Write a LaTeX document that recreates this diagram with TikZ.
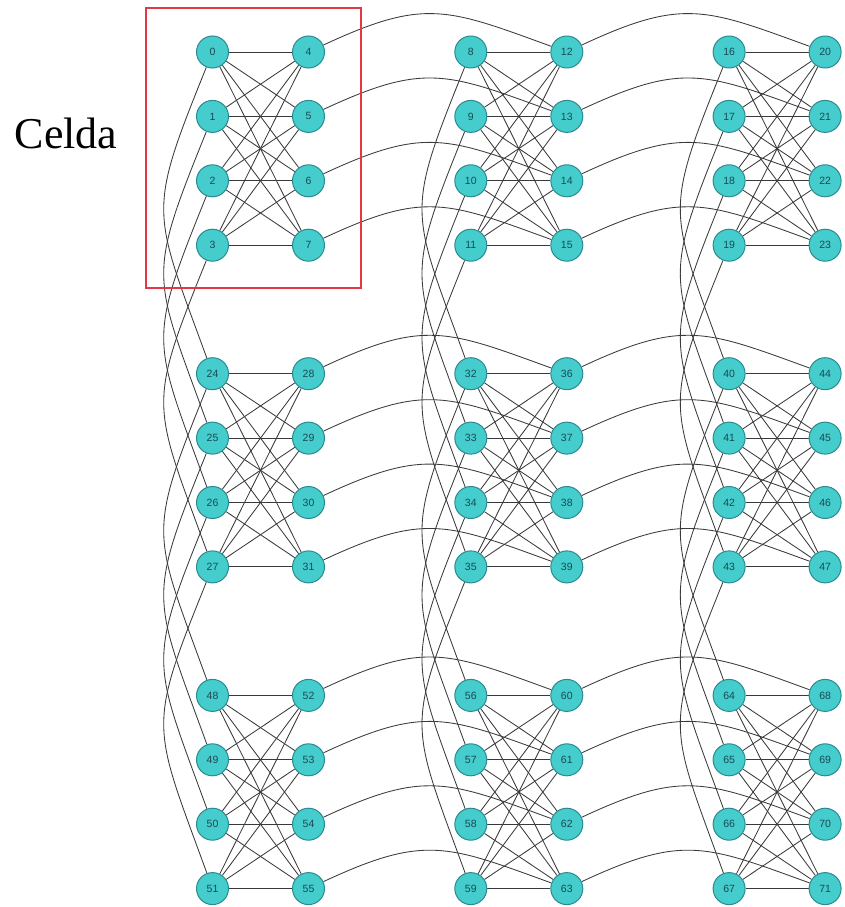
\documentclass[tikz,border=0pt]{standalone}
\usepackage{fontspec}
\setmainfont{Liberation Serif}
\newfontfamily\qubitfont{Liberation Sans}
\usepackage{xcolor}
\usepackage{tikz}
\usetikzlibrary{backgrounds}
\definecolor{qubitfill}{HTML}{45CCCC}
\definecolor{qubitdraw}{HTML}{2A8A90}
\definecolor{qubittext}{HTML}{1A4A55}
\definecolor{edgegray}{HTML}{3A3A3A}
\definecolor{cellred}{HTML}{E23744}

\begin{document}
\begin{tikzpicture}[x=1pt,y=1pt,
    qubit/.style={draw=qubitdraw,fill=qubitfill,circle,line width=1pt,minimum size=32pt,inner sep=0pt,font=\qubitfont\fontsize{10.5}{10.5}\selectfont,text=qubittext},
    coupler/.style={draw=edgegray,line width=0.85pt}]
    \useasboundingbox (0,0) rectangle (845,-907);
    % qubits
    \foreach \r in {0,1,2}{
      \foreach \c in {0,1,2}{
        \foreach \k in {0,1,2,3}{
          \pgfmathtruncatemacro{\a}{24*\r+8*\c+\k}
          \pgfmathtruncatemacro{\b}{\a+4}
          \node[qubit] (\a) at ({212.5+258.3*\c},{-(52+321.7*\r+64.4*\k)}) {\a};
          \node[qubit] (\b) at ({308.5+258.3*\c},{-(52+321.7*\r+64.4*\k)}) {\b};
        }
      }
    }
    \begin{scope}[on background layer]
    % couplers inside a cell
    \foreach \r in {0,1,2}{
      \foreach \c in {0,1,2}{
        \foreach \i in {0,...,3}{
          \foreach \j in {4,...,7}{
            \pgfmathtruncatemacro{\a}{24*\r+8*\c+\i}
            \pgfmathtruncatemacro{\b}{24*\r+8*\c+\j}
            \draw[coupler] (\a) -- (\b);
          }
        }
      }
    }
    % couplers to the next cell on the right
    \foreach \r in {0,1,2}{
      \foreach \c in {0,1}{
        \foreach \k in {0,...,3}{
          \pgfmathtruncatemacro{\a}{24*\r+8*\c+4+\k}
          \pgfmathtruncatemacro{\b}{\a+8}
          \draw[coupler] (\a) to[out=25,in=160,looseness=1.25] (\b);
        }
      }
    }
    % couplers to the next cell below
    \foreach \r in {0,1}{
      \foreach \c in {0,1,2}{
        \foreach \k in {0,...,3}{
          \pgfmathtruncatemacro{\a}{24*\r+8*\c+\k}
          \pgfmathtruncatemacro{\b}{\a+24}
          \draw[coupler] (\a) to[out=-112,in=110,looseness=1.4] (\b);
        }
      }
    }
    \end{scope}
    % one cell marked
    \draw[cellred,line width=1.6pt] (146,-8) rectangle (361,-288);
    \node[anchor=base,font=\fontsize{44}{44}\selectfont] (celda) at (66,-148) {Celda};
\end{tikzpicture}
\end{document}
